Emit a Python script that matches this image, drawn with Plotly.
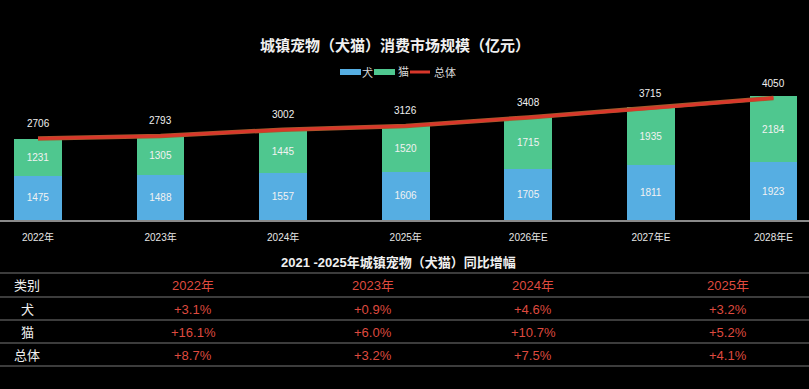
import plotly.graph_objects as go

# ---------------- data ----------------
categories = ["2022年", "2023年", "2024年", "2025年", "2026年E", "2027年E", "2028年E"]
dog = [1475, 1488, 1557, 1606, 1705, 1811, 1923]
cat = [1231, 1305, 1445, 1520, 1715, 1935, 2184]
total = [2706, 2793, 3002, 3126, 3408, 3715, 4050]

table_years = ["2022年", "2023年", "2024年", "2025年"]
row_labels = ["犬", "猫", "总体"]
dog_yoy = [3.1, 0.9, 4.6, 3.2]
cat_yoy = [16.1, 6.0, 10.7, 5.2]
total_yoy = [8.7, 3.2, 7.5, 4.1]

# ---------------- style ----------------
W, H = 809, 389
BLUE = "#56aee2"
GREEN = "#4fc78f"
RED = "#d8372b"
TRED = "#df4a3f"
FONT = "Arial, Liberation Sans, Noto Sans CJK SC, sans-serif"


def px(x):
    return x / W


def py(y):
    return 1 - y / H


def label(x, y, text, color, size, **kw):
    return dict(x=px(x), y=py(y), xref="paper", yref="paper", showarrow=False,
                xanchor="center", yanchor="middle", text=text,
                font=dict(color=color, size=size, family=FONT), **kw)


fig = go.Figure()
fig.add_trace(go.Bar(
    x=categories, y=dog, name="犬", marker=dict(color=BLUE, line=dict(width=0)),
    width=0.39, text=[str(v) for v in dog], textposition="inside",
    insidetextanchor="middle", textangle=0,
    textfont=dict(color="#f2f2f2", size=10, family=FONT),
))
fig.add_trace(go.Bar(
    x=categories, y=cat, name="猫", marker=dict(color=GREEN, line=dict(width=0)),
    width=0.39, text=[str(v) for v in cat], textposition="inside",
    insidetextanchor="middle", textangle=0,
    textfont=dict(color="#f2f2f2", size=10, family=FONT),
))
fig.add_trace(go.Scatter(
    x=categories, y=total, mode="lines", line=dict(color="#a65a2c", width=4.5),
    showlegend=False, hoverinfo="skip",
))
fig.add_trace(go.Scatter(
    x=categories, y=total, name="总体", mode="lines", line=dict(color=RED, width=3),
))

annotations = []
# total labels above line
for c, t in zip(categories, total):
    annotations.append(dict(
        x=c, y=t, xref="x", yref="y", text=str(t), showarrow=False,
        xanchor="center", yanchor="middle",
        yshift=15, font=dict(color="#f0f0f0", size=10, family=FONT),
    ))

# title
annotations.append(label(395, 45, "<b>城镇宠物（犬猫）消费市场规模（亿元）</b>", "#f0f0f0", 15))

# manual legend
shapes = []
shapes.append(dict(type="rect", xref="paper", yref="paper",
                   x0=px(340), x1=px(361), y0=py(75), y1=py(69),
                   fillcolor=BLUE, line=dict(width=0)))
shapes.append(dict(type="rect", xref="paper", yref="paper",
                   x0=px(374), x1=px(395), y0=py(75), y1=py(69),
                   fillcolor=GREEN, line=dict(width=0)))
shapes.append(dict(type="line", xref="paper", yref="paper",
                   x0=px(410), x1=px(430), y0=py(72), y1=py(72),
                   line=dict(color=RED, width=3)))
for txt, xc in [("犬", 367.5), ("猫", 403), ("总体", 445)]:
    annotations.append(label(xc, 72, txt, "#d8d8d8", 11))

# table title
annotations.append(label(398, 262, "<b>2021 -2025年城镇宠物（犬猫）同比增幅</b>", "#f0f0f0", 13))

# table lines
for yl in [273, 297, 320, 343, 366]:
    shapes.append(dict(type="line", xref="paper", yref="paper",
                       x0=0, x1=1, y0=py(yl), y1=py(yl),
                       line=dict(color="#3c3c3c", width=2)))

col_x = [193, 373, 533, 728]
row_y = [285, 309, 332, 355]
label_x = 27

annotations.append(label(label_x, row_y[0], "类别", "#f0f0f0", 13))
for yr, xc in zip(table_years, col_x):
    annotations.append(label(xc, row_y[0], yr, TRED, 13))
for lab, vals, yr in zip(row_labels, [dog_yoy, cat_yoy, total_yoy], row_y[1:]):
    annotations.append(label(label_x, yr, lab, "#f0f0f0", 13))
    for v, xc in zip(vals, col_x):
        annotations.append(label(xc, yr, f"+{v:.1f}%", TRED, 13))

base_px = 220
top_px = 80
scale = 0.0301  # px per unit
fig.update_layout(
    width=W, height=H,
    margin=dict(l=0, r=0, t=0, b=0),
    paper_bgcolor="#000000", plot_bgcolor="#000000",
    barmode="stack", bargap=0.6,
    showlegend=False,
    font=dict(family=FONT, color="#eeeeee"),
    xaxis=dict(
        type="category", range=[-0.31, 6.29], showgrid=False, zeroline=False,
        showline=True, linecolor="#8a8a8a", linewidth=1.5,
        ticks="outside", ticklen=7, tickcolor="rgba(0,0,0,0)",
        tickfont=dict(color="#e6e6e6", size=10, family=FONT),
        fixedrange=True,
    ),
    yaxis=dict(
        domain=[py(base_px), py(top_px)],
        range=[0, (base_px - top_px) / scale],
        showgrid=False, zeroline=False, showticklabels=False, showline=False,
        fixedrange=True,
    ),
    annotations=annotations,
    shapes=shapes,
)

fig.write_html(
    "out.html",
    config={"displayModeBar": False},
    post_script="document.body.style.margin='0';document.body.style.background='#000';"
                "document.body.style.overflow='hidden';",
)
